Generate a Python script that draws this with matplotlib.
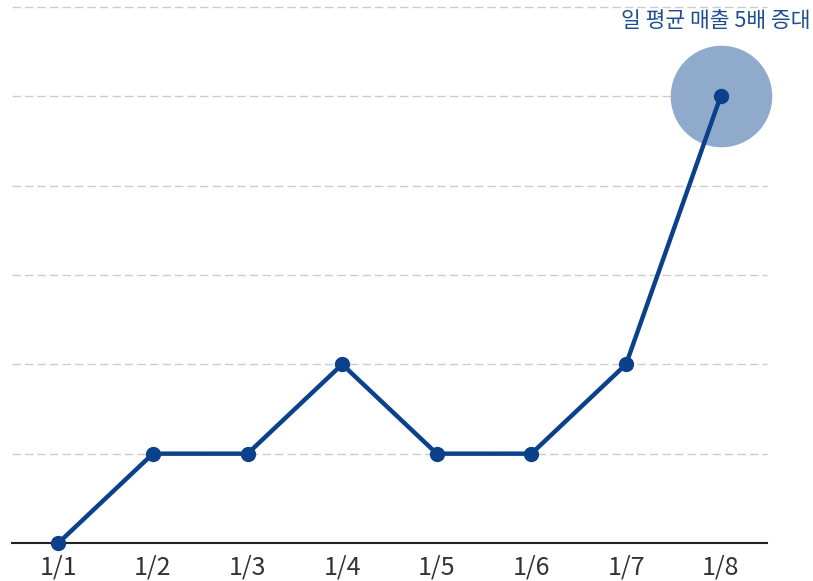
import matplotlib.pyplot as plt

plt.rcParams['font.family'] = ['Noto Sans CJK KR', 'DejaVu Sans']

# donnees
dates = ['1/1', '1/2', '1/3', '1/4', '1/5', '1/6', '1/7', '1/8']
ventes = [0, 1, 1, 2, 1, 1, 2, 5]
grille = [1, 2, 3, 4, 5, 6]
note = '일 평균 매출 5배 증대'

bleu = '#0B418B'

fig = plt.figure(figsize=(8.13, 5.81), dpi=100)
ax = fig.add_axes([12/813, 38/581, 755/813, 536/581])
x = list(range(len(dates)))

# grille pointillee
for g in grille:
    ax.axhline(g, color='#CCCCCC', lw=1, ls=(0, (6, 3)), zorder=0, clip_on=False)
ax.axhline(0, color='#222222', lw=1.5, zorder=1, clip_on=False)

# cercle de mise en valeur
ax.scatter([x[-1]], [ventes[-1]], s=5200, color='#8FAACB', zorder=2, clip_on=False)

ax.plot(x, ventes, color=bleu, lw=3.2, marker='o', ms=10, zorder=3, clip_on=False)

ax.set_xlim(-0.49, 7.49)
ax.set_ylim(0, 6)
ax.set_xticks(x)
ax.set_xticklabels(dates, fontsize=18, color='#333333', fontweight='light')
ax.tick_params(axis='x', length=0, pad=8)
ax.set_yticks([])
for s in ax.spines.values():
    s.set_visible(False)

fig.text(810/813, 1 - 21/581, note, ha='right', va='center', fontsize=15.5, color='#1F4E8C')

fig.savefig('out.png', dpi=100)
